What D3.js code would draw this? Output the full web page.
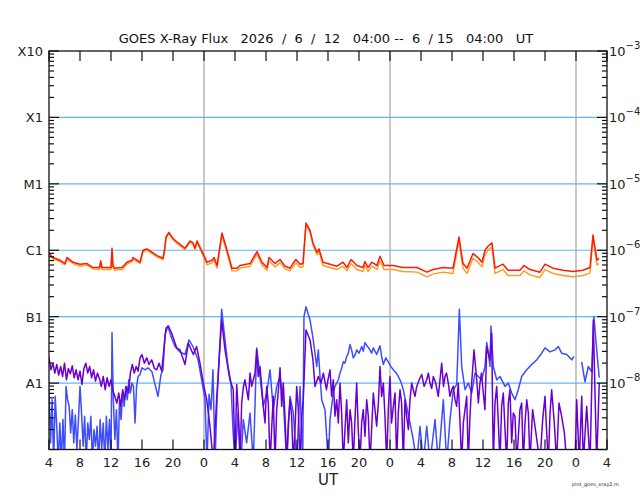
<!DOCTYPE html>
<html>
<head>
<meta charset="utf-8">
<script src="https://cdn.jsdelivr.net/npm/d3@7"></script>
<style>
  body { margin: 0; background: #fff; }
  svg { display: block; font-family: "DejaVu Sans", sans-serif; }
  text { white-space: pre; }
</style>
</head>
<body>
<figure style="margin:0"></figure>
<script>

// hours after 2026-06-12 04:00 UT, log10 of flux (W/m^2)
const longPrimary = [[0,-6.05],[0.52,-6.11],[1.42,-6.15],[2.06,-6.20],[2.32,-6.11],[3.10,-6.18],[4.0,-6.21],[4.9,-6.20],[5.68,-6.26],[6.52,-6.26],[6.67,-6.16],[6.84,-6.26],[7.48,-6.26],[8.0,-6.26],[8.13,-5.97],[8.26,-6.24],[8.52,-6.27],[9.42,-6.26],[10.06,-6.18],[10.71,-6.15],[10.84,-6.11],[11.35,-6.15],[11.74,-6.18],[12.13,-6.0],[12.65,-5.98],[13.29,-6.03],[13.94,-6.08],[14.71,-6.12],[14.9,-6.0],[15.1,-5.8],[15.48,-5.73],[16.0,-5.82],[16.65,-5.89],[17.55,-5.97],[18.19,-5.86],[18.58,-5.89],[18.84,-5.97],[19.1,-5.86],[19.87,-6.05],[20.39,-6.18],[21.03,-6.15],[21.3,-6.11],[21.68,-6.23],[22.32,-5.74],[22.97,-6.0],[23.61,-6.27],[24.26,-6.27],[24.65,-6.23],[25.94,-6.20],[26.84,-6.02],[27.48,-6.18],[28.13,-6.26],[28.39,-6.11],[29.16,-6.20],[29.81,-6.14],[30.45,-6.24],[31.1,-6.27],[31.48,-6.20],[31.87,-6.14],[32.39,-6.21],[32.77,-6.20],[33.16,-5.59],[33.68,-5.70],[34.06,-5.89],[34.58,-6.03],[34.84,-5.98],[35.35,-6.18],[36.26,-6.21],[37.16,-6.24],[37.94,-6.18],[38.45,-6.26],[38.97,-6.14],[39.74,-6.23],[40.52,-6.26],[40.77,-6.17],[41.16,-6.26],[41.68,-6.18],[42.32,-6.23],[42.71,-6.09],[43.23,-6.23],[44.39,-6.23],[45.68,-6.26],[47.48,-6.26],[48.77,-6.33],[49.55,-6.29],[50.84,-6.26],[52.13,-6.27],[52.9,-5.80],[53.42,-6.20],[53.94,-6.27],[54.71,-6.05],[55.35,-6.11],[55.87,-6.18],[56.26,-6.0],[56.65,-5.94],[57.16,-5.89],[57.55,-6.27],[58.58,-6.21],[59.23,-6.30],[60.77,-6.30],[61.29,-6.23],[62.06,-6.29],[63.35,-6.33],[64.0,-6.21],[65.03,-6.27],[66.32,-6.30],[67.61,-6.32],[68.9,-6.30],[69.81,-6.26],[70.19,-5.77],[70.71,-6.15],[70.97,-6.12]]

const longSecondary = [[0,-6.07],[0.52,-6.13],[1.42,-6.17],[2.06,-6.22],[2.32,-6.14],[3.10,-6.20],[4.0,-6.24],[4.9,-6.22],[5.68,-6.28],[6.52,-6.29],[6.67,-6.20],[6.84,-6.29],[7.48,-6.29],[8.0,-6.29],[8.13,-6.05],[8.26,-6.27],[8.52,-6.30],[9.42,-6.29],[10.06,-6.21],[10.71,-6.17],[10.84,-6.14],[11.35,-6.17],[11.74,-6.20],[12.13,-6.02],[12.65,-6.00],[13.29,-6.05],[13.94,-6.10],[14.71,-6.14],[14.9,-6.03],[15.1,-5.82],[15.48,-5.75],[16.0,-5.84],[16.65,-5.91],[17.55,-5.99],[18.19,-5.88],[18.58,-5.91],[18.84,-5.99],[19.1,-5.88],[19.87,-6.08],[20.39,-6.22],[21.03,-6.19],[21.3,-6.15],[21.68,-6.27],[22.32,-5.78],[22.97,-6.04],[23.61,-6.31],[24.26,-6.31],[24.65,-6.27],[25.94,-6.24],[26.84,-6.06],[27.48,-6.22],[28.13,-6.30],[28.39,-6.16],[29.16,-6.25],[29.81,-6.19],[30.45,-6.28],[31.1,-6.31],[31.48,-6.25],[31.87,-6.19],[32.39,-6.26],[32.77,-6.25],[33.16,-5.62],[33.68,-5.73],[34.06,-5.92],[34.58,-6.07],[34.84,-6.02],[35.35,-6.23],[36.26,-6.26],[37.16,-6.29],[37.94,-6.24],[38.45,-6.31],[38.97,-6.20],[39.74,-6.29],[40.52,-6.32],[40.77,-6.23],[41.16,-6.32],[41.68,-6.24],[42.32,-6.29],[42.71,-6.16],[43.23,-6.29],[44.39,-6.29],[45.68,-6.32],[47.48,-6.33],[48.77,-6.40],[49.55,-6.36],[50.84,-6.33],[52.13,-6.35],[52.9,-5.86],[53.42,-6.27],[53.94,-6.35],[54.71,-6.12],[55.35,-6.18],[55.87,-6.25],[56.26,-6.07],[56.65,-6.00],[57.16,-5.95],[57.55,-6.35],[58.58,-6.29],[59.23,-6.38],[60.77,-6.38],[61.29,-6.31],[62.06,-6.37],[63.35,-6.41],[64.0,-6.29],[65.03,-6.35],[66.32,-6.38],[67.61,-6.40],[68.9,-6.38],[69.81,-6.34],[70.19,-5.82],[70.71,-6.22],[70.97,-6.20]]

const shortPrimary = [[0,-8.10],[0.2,-8.90],[0.4,-8.25],[0.6,-9.2],[0.8,-8.20],[1.0,-8.65],[1.2,-9.2],[1.4,-8.60],[1.6,-9.2],[1.8,-8.55],[2.0,-9.2],[2.2,-8.05],[2.4,-8.25],[2.6,-8.35],[2.8,-8.75],[3.0,-8.40],[3.2,-8.90],[3.4,-8.48],[3.6,-9.0],[3.8,-8.55],[4.0,-8.05],[4.2,-8.45],[4.4,-8.95],[4.6,-8.50],[4.8,-9.2],[5.0,-8.60],[5.2,-8.85],[5.4,-8.50],[5.6,-9.2],[5.8,-8.70],[6.0,-8.95],[6.2,-8.65],[6.4,-9.2],[6.6,-8.55],[6.8,-9.0],[7.0,-8.60],[7.2,-9.2],[7.4,-8.50],[7.6,-9.0],[7.8,-8.55],[8.0,-9.2],[8.13,-7.24],[8.3,-8.25],[8.5,-8.85],[8.7,-8.40],[8.9,-9.2],[9.1,-8.25],[9.3,-8.55],[9.5,-8.15],[9.7,-8.35],[9.9,-8.05],[10.1,-8.25],[10.3,-7.95],[10.5,-8.15],[10.7,-8.00],[10.9,-8.05],[11.1,-8.60],[11.3,-8.05],[11.5,-7.90],[11.74,-7.87],[12.0,-7.77],[12.39,-7.80],[12.77,-7.77],[13.29,-7.83],[13.68,-8.02],[14.06,-8.20],[14.45,-7.87],[14.71,-7.80],[14.97,-7.27],[15.35,-7.14],[15.74,-7.30],[16.26,-7.45],[16.9,-7.53],[17.55,-7.57],[18.06,-7.35],[18.58,-7.45],[19.23,-7.65],[19.7,-7.95],[20.13,-8.25],[20.39,-9.2],[20.65,-8.17],[20.9,-8.40],[21.16,-7.80],[21.42,-9.2],[21.68,-8.25],[21.94,-7.65],[22.28,-6.89],[22.71,-7.35],[23.1,-7.75],[23.48,-8.0],[23.74,-8.70],[24.0,-9.2],[24.39,-8.45],[24.77,-9.2],[25.07,-8.55],[25.5,-8.90],[25.94,-8.45],[26.36,-9.2],[26.8,-7.47],[27.23,-7.90],[27.65,-8.35],[28.09,-8.15],[28.52,-7.80],[28.94,-8.40],[29.38,-8.05],[29.81,-7.90],[30.23,-8.25],[30.67,-9.2],[31.1,-8.20],[31.52,-8.45],[31.96,-9.2],[32.39,-8.05],[32.73,-9.2],[32.9,-7.0],[33.16,-6.85],[33.68,-7.05],[34.1,-7.35],[34.54,-7.75],[34.75,-7.50],[34.97,-7.90],[35.19,-8.25],[35.61,-8.40],[36.04,-9.2],[36.26,-8.55],[36.47,-8.35],[36.68,-8.15],[36.9,-8.05],[37.12,-8.0],[37.33,-7.95],[37.55,-7.85],[37.76,-7.78],[37.97,-7.68],[38.19,-7.70],[38.41,-7.60],[38.62,-7.55],[38.84,-7.42],[39.05,-7.50],[39.26,-7.62],[39.48,-7.58],[39.7,-7.50],[40.0,-7.55],[40.35,-7.45],[40.56,-7.52],[40.77,-7.39],[41.1,-7.45],[41.42,-7.50],[41.63,-7.55],[41.85,-7.47],[42.06,-7.52],[42.28,-7.57],[42.5,-7.50],[42.71,-7.44],[42.92,-7.60],[43.14,-7.72],[43.46,-7.62],[43.78,-7.68],[44.1,-7.75],[44.43,-7.80],[44.75,-7.84],[45.07,-7.90],[45.4,-7.98],[45.72,-8.10],[46.15,-8.35],[46.58,-8.60],[47.0,-8.85],[47.45,-9.2],[47.87,-8.65],[48.3,-9.2],[48.74,-8.65],[49.16,-9.2],[49.81,-8.55],[50.23,-9.2],[50.88,-8.25],[51.32,-9.2],[51.74,-8.55],[52.17,-8.10],[52.61,-8.02],[52.95,-6.89],[53.25,-7.75],[53.68,-8.10],[54.1,-8.0],[54.54,-8.15],[54.97,-7.85],[55.4,-7.90],[55.83,-7.95],[56.26,-7.75],[56.48,-7.39],[56.7,-7.55],[56.9,-7.75],[57.03,-7.14],[57.33,-7.75],[57.77,-7.95],[58.19,-7.90],[58.84,-8.05],[59.27,-8.0],[59.7,-8.15],[60.13,-8.25],[60.55,-8.10],[60.99,-7.90],[61.64,-7.80],[62.28,-7.72],[62.93,-7.65],[63.57,-7.55],[64.0,-7.47],[64.65,-7.53],[65.29,-7.50],[65.72,-7.45],[66.15,-7.55],[66.8,-7.57],[67.45,-7.65],[67.74,-7.60],[67.9,null],[68.74,-7.68],[69.16,-7.98],[69.59,-7.75],[70.03,-7.83],[70.32,-7.0],[70.67,-7.50],[71.0,-7.92]]

const shortSecondary = [[0,-7.62],[0.25,-7.80],[0.5,-7.70],[0.75,-7.85],[1.0,-7.72],[1.25,-7.88],[1.5,-7.75],[1.75,-7.90],[2.0,-7.70],[2.25,-7.95],[2.5,-7.78],[2.75,-7.86],[3.0,-7.74],[3.25,-7.92],[3.5,-7.80],[3.75,-7.95],[4.0,-7.82],[4.25,-8.02],[4.5,-7.78],[4.75,-7.70],[5.0,-7.85],[5.25,-7.75],[5.5,-7.92],[5.75,-7.80],[6.0,-7.97],[6.25,-7.85],[6.5,-7.93],[6.75,-8.05],[7.0,-7.90],[7.25,-8.10],[7.5,-7.92],[7.75,-8.05],[8.0,-7.95],[8.25,-8.12],[8.5,-8.20],[8.75,-8.30],[9.0,-8.15],[9.25,-8.35],[9.5,-8.10],[9.75,-8.25],[10.0,-8.05],[10.25,-8.15],[10.5,-7.85],[10.75,-7.72],[11.0,-7.85],[11.25,-7.75],[11.5,-7.82],[11.75,-7.62],[12.0,-7.57],[12.3,-7.70],[12.61,-7.62],[12.9,-7.72],[13.25,-7.65],[13.6,-7.78],[13.9,-7.80],[14.2,-7.70],[14.54,-7.82],[15.1,-7.17],[15.4,-7.14],[15.83,-7.25],[16.48,-7.47],[16.9,-7.50],[17.55,-7.72],[17.98,-7.40],[18.62,-7.57],[19.05,-7.45],[19.48,-7.70],[19.91,-8.0],[20.35,-8.25],[20.77,-8.65],[21.2,-9.2],[21.63,-8.25],[22.28,-7.05],[22.71,-7.50],[23.35,-7.95],[23.78,-8.10],[24.0,-9.2],[24.22,-8.02],[24.43,-8.45],[24.65,-9.2],[24.86,-8.3],[25.07,-8.07],[25.28,-7.95],[25.5,-8.10],[25.72,-8.25],[25.94,-7.85],[26.15,-8.05],[26.36,-7.95],[26.58,-7.85],[26.8,-7.50],[27.0,-7.9],[27.23,-7.75],[27.44,-8.05],[27.65,-8.35],[27.87,-8.6],[28.09,-8.05],[28.3,-8.3],[28.52,-9.2],[28.73,-8.7],[28.94,-8.20],[29.16,-9.2],[29.38,-8.40],[29.6,-8.1],[29.81,-7.77],[30.02,-8.35],[30.23,-8.0],[30.45,-8.5],[30.67,-9.2],[30.88,-8.6],[31.1,-8.25],[31.31,-8.5],[31.52,-9.2],[31.74,-8.7],[31.96,-8.05],[32.17,-8.4],[32.39,-9.2],[32.6,-8.5],[32.81,-8.25],[33.16,-7.2],[33.68,-7.35],[34.06,-7.65],[34.32,-8.05],[34.75,-7.90],[35.1,-8.0],[35.4,-7.85],[35.8,-8.1],[36.0,-7.95],[36.26,-7.80],[36.47,-8.2],[36.68,-7.95],[36.9,-8.5],[37.12,-8.25],[37.33,-8.6],[37.55,-8.0],[37.76,-8.45],[37.97,-9.2],[38.19,-8.7],[38.41,-8.25],[38.62,-8.9],[38.84,-8.40],[39.05,-8.6],[39.26,-9.2],[39.48,-8.55],[39.7,-8.0],[39.9,-8.7],[40.13,-9.2],[40.34,-8.6],[40.55,-8.40],[40.77,-8.8],[40.99,-8.25],[41.2,-8.5],[41.42,-9.2],[41.63,-8.7],[41.85,-8.15],[42.06,-8.4],[42.28,-8.65],[42.5,-8.3],[42.71,-7.75],[42.92,-8.2],[43.14,-8.0],[43.35,-8.5],[43.57,-9.2],[43.78,-8.4],[44.0,-7.90],[44.2,-8.6],[44.43,-8.35],[44.65,-8.15],[44.86,-9.2],[45.07,-8.45],[45.29,-8.10],[45.5,-8.3],[45.72,-9.2],[45.93,-8.25],[46.15,-8.50],[46.37,-8.7],[46.58,-8.25],[46.8,-8.0],[47.0,-8.10],[47.22,-8.2],[47.45,-8.05],[47.77,-7.95],[48.09,-7.87],[48.4,-8.05],[48.74,-7.95],[48.95,-7.85],[49.16,-8.0],[49.38,-8.08],[49.59,-7.90],[49.9,-8.0],[50.23,-8.20],[50.45,-7.95],[50.67,-7.70],[50.9,-8.05],[51.1,-7.90],[51.3,-7.85],[51.52,-8.0],[51.74,-8.2],[51.96,-8.10],[52.17,-8.05],[52.39,-8.25],[52.6,-8.35],[52.81,-8.0],[53.0,-8.5],[53.25,-9.2],[53.46,-8.6],[53.68,-8.40],[53.9,-8.2],[54.1,-9.2],[54.3,-8.55],[54.54,-8.0],[54.84,-7.50],[55.19,-7.95],[55.4,-8.3],[55.61,-8.0],[55.8,-7.85],[56.04,-8.15],[56.25,-8.4],[56.48,-7.45],[56.9,-7.65],[57.12,-7.25],[57.33,-9.2],[57.55,-8.3],[57.77,-8.05],[57.98,-8.6],[58.19,-9.2],[58.4,-8.35],[58.62,-8.15],[58.84,-8.7],[59.06,-9.2],[59.27,-8.3],[59.48,-8.10],[59.7,-8.9],[59.91,-8.45],[60.13,-8.5],[60.35,-9.2],[60.56,-8.8],[60.77,-8.40],[60.99,-8.3],[61.2,-9.2],[61.42,-8.6],[61.64,-8.25],[61.85,-8.45],[62.06,-9.2],[62.4,-8.4],[62.71,-8.65],[63.0,-8.9],[63.35,-9.2],[63.7,-8.55],[64.0,-8.20],[64.2,-8.7],[64.43,-9.2],[64.65,-8.45],[64.86,-8.10],[65.2,-8.6],[65.5,-9.2],[65.8,-8.3],[66.15,-8.50],[66.5,-8.75],[66.8,-9.2],[67.87,-9.2],[68.09,-8.25],[68.42,-9.2],[68.74,-8.20],[68.94,-9.2],[69.38,-8.35],[69.81,-9.2],[70.23,-7.05],[70.67,-9.2],[71.0,-8.0]]

const classLabels = ["X10", "X1", "M1", "C1", "B1", "A1"]
const classValues = [1e-3, 1e-4, 1e-5, 1e-6, 1e-7, 1e-8]
const powerExps = [-3, -4, -5, -6, -7, -8]
const gridValues = [1e-4, 1e-5, 1e-6, 1e-7, 1e-8]

const startTime = new Date(Date.UTC(2026, 5, 12, 4))
const endTime = new Date(Date.UTC(2026, 5, 15, 4))
const titleText = "GOES X-Ray Flux   2026  /  6  /  12   04:00 --  6  / 15   04:00   UT"

////////////////////////////////////
///////////// SVG Setup ////////////
////////////////////////////////////

const svgWidth = 640
const svgHeight = 500
const margin = { left: 49, right: 33, top: 51, bottom: 50.5 }
const width = svgWidth - margin.left - margin.right
const height = svgHeight - margin.top - margin.bottom

const svg = d3.select('figure')
  .append('svg')
  .attr('width', svgWidth)
  .attr('height', svgHeight)
  .append('g')
  .attr('transform', `translate(${margin.left},${margin.top})`)

////////////////////////////////////
///////////// Scales ///////////////
////////////////////////////////////

const x = d3.scaleUtc()
  .domain([startTime, endTime])
  .range([0, width])

const y = d3.scaleLog()
  .domain([1e-9, 1e-3])
  .range([height, 0])

const toDate = h => new Date(startTime.getTime() + h * 3600e3)

svg.append('clipPath').attr('id', 'plotclip')
  .append('rect').attr('width', width).attr('height', height)

// grid lines
svg.append('g')
  .selectAll('line')
  .data(gridValues)
  .enter().append('line')
  .attr('x1', 0).attr('x2', width)
  .attr('y1', d => y(d)).attr('y2', d => y(d))
  .style('stroke', '#62b6f4')
  .style('stroke-width', 1.2)

// day boundaries
svg.append('g')
  .selectAll('line')
  .data(d3.utcDay.range(startTime, endTime))
  .enter().append('line')
  .attr('x1', d => x(d)).attr('x2', d => x(d))
  .attr('y1', 0).attr('y2', height)
  .style('stroke', '#a4a4a4')
  .style('stroke-width', 1.2)

////////////////////////////////////
///////////// Lines ////////////////
////////////////////////////////////

const line = d3.line()
  .defined(d => d[1] !== null)
  .x(d => x(toDate(d[0])))
  .y(d => y(Math.pow(10, d[1])))

const series = [
  { data: shortPrimary, color: '#3d4dff', w: 1.5 },
  { data: shortSecondary, color: '#6a00d0', w: 1.5 },
  { data: longSecondary, color: '#ff9a1a', w: 1.4 },
  { data: longPrimary, color: '#ff1a0a', w: 1.5 }
]

svg.append('g')
  .attr('clip-path', 'url(#plotclip)')
  .selectAll('path')
  .data(series)
  .enter().append('path')
  .attr('d', d => line(d.data))
  .style('fill', 'none')
  .style('stroke', d => d.color)
  .style('stroke-width', d => d.w)
  .style('stroke-linejoin', 'round')

////////////////////////////////////
///////////// Axes /////////////////
////////////////////////////////////

const hourTicks = x.ticks(d3.utcHour.every(4))
const logTicks = y.ticks()
const isMajor = v => Math.abs(Math.log10(v) - Math.round(Math.log10(v))) < 1e-6

const tickStyle = sel => sel.style('stroke', '#111').style('stroke-width', 1.2)

// top & bottom ticks (inward)
svg.append('g').selectAll('line').data(hourTicks).enter().append('line')
  .attr('x1', d => x(d)).attr('x2', d => x(d)).attr('y1', 0).attr('y2', 10)
  .call(tickStyle)
svg.append('g').selectAll('line').data(hourTicks).enter().append('line')
  .attr('x1', d => x(d)).attr('x2', d => x(d)).attr('y1', height).attr('y2', height - 10)
  .call(tickStyle)

// left & right ticks (inward)
svg.append('g').selectAll('line').data(logTicks).enter().append('line')
  .attr('x1', 0).attr('x2', d => isMajor(d) ? 10 : 5)
  .attr('y1', d => y(d)).attr('y2', d => y(d))
  .call(tickStyle)
svg.append('g').selectAll('line').data(logTicks).enter().append('line')
  .attr('x1', width).attr('x2', d => width - (isMajor(d) ? 10 : 5))
  .attr('y1', d => y(d)).attr('y2', d => y(d))
  .call(tickStyle)

// frame
svg.append('rect')
  .attr('width', width).attr('height', height)
  .style('fill', 'none')
  .style('stroke', '#111')
  .style('stroke-width', 1.3)

// hour labels
svg.append('g').selectAll('text').data(hourTicks).enter().append('text')
  .attr('x', d => x(d))
  .attr('y', height + 17)
  .style('text-anchor', 'middle')
  .style('font-size', '13px')
  .style('fill', '#222')
  .text(d => d.getUTCHours())

// flare class labels
svg.append('g').selectAll('text').data(classLabels).enter().append('text')
  .attr('x', -6)
  .attr('y', (d, i) => y(classValues[i]) + 5)
  .style('text-anchor', 'end')
  .style('font-size', '13px')
  .style('fill', '#222')
  .text(d => d)

// power-of-ten labels
const pow = svg.append('g').selectAll('text').data(powerExps).enter().append('text')
  .attr('x', width + 2)
  .attr('y', (d, i) => y(classValues[i]) + 5)
  .style('font-size', '13px')
  .style('fill', '#222')
pow.append('tspan').text('10')
pow.append('tspan')
  .attr('dy', -7)
  .style('font-size', '10px')
  .text(d => '\u2212' + Math.abs(d))

// title
svg.append('text')
  .attr('x', width / 2 - 2)
  .attr('y', -8)
  .style('text-anchor', 'middle')
  .style('font-size', '13px')
  .style('fill', '#111')
  .text(titleText)

svg.append('text')
  .attr('x', width / 2)
  .attr('y', height + 35)
  .style('text-anchor', 'middle')
  .style('font-size', '15px')
  .style('fill', '#222')
  .text('UT')

svg.append('text')
  .attr('x', width + 12)
  .attr('y', height + 36)
  .style('text-anchor', 'end')
  .style('font-size', '5px')
  .style('fill', '#333')
  .text('plot_goes_xray2.m')

</script>
</body>
</html>
